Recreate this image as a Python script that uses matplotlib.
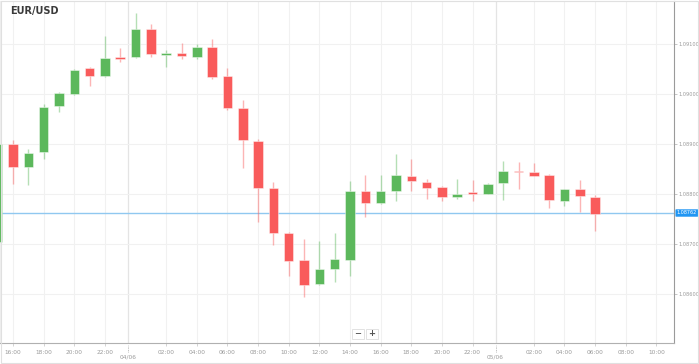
"""EUR/USD hourly candlestick chart."""

import matplotlib

matplotlib.use("Agg")
import matplotlib.pyplot as plt
from matplotlib.patches import FancyBboxPatch

# hours since 16:00 on 03/06
hours = list(range(-1, 39))
opens = [1.08704, 1.08900, 1.08854, 1.08884, 1.08976, 1.09000, 1.09052, 1.09036,
         1.09074, 1.09074, 1.09130, 1.09078, 1.09082, 1.09074, 1.09094, 1.09036,
         1.08972, 1.08906, 1.08812, 1.08722, 1.08668, 1.08620, 1.08650, 1.08668,
         1.08806, 1.08782, 1.08806, 1.08836, 1.08824, 1.08814, 1.08794, 1.08804,
         1.08800, 1.08822, 1.08846, 1.08844, 1.08838, 1.08786, 1.08810, 1.08794]
closes = [1.08900, 1.08854, 1.08882, 1.08974, 1.09002, 1.09048, 1.09036, 1.09072,
          1.09070, 1.09130, 1.09080, 1.09082, 1.09076, 1.09094, 1.09034, 1.08972,
          1.08908, 1.08812, 1.08722, 1.08666, 1.08618, 1.08650, 1.08670, 1.08806,
          1.08782, 1.08806, 1.08838, 1.08826, 1.08812, 1.08794, 1.08800, 1.08800,
          1.08820, 1.08846, 1.08844, 1.08836, 1.08788, 1.08810, 1.08796, 1.08760]
highs = [1.08905, 1.08908, 1.08890, 1.08980, 1.09004, 1.09050, 1.09054, 1.09116,
         1.09092, 1.09162, 1.09140, 1.09088, 1.09102, 1.09100, 1.09110, 1.09052,
         1.08988, 1.08910, 1.08824, 1.08724, 1.08710, 1.08706, 1.08722, 1.08826,
         1.08838, 1.08838, 1.08880, 1.08870, 1.08830, 1.08816, 1.08830, 1.08828,
         1.08822, 1.08866, 1.08864, 1.08862, 1.08840, 1.08810, 1.08828, 1.08798]
lows = [1.08700, 1.08820, 1.08818, 1.08870, 1.08964, 1.08998, 1.09016, 1.09034,
        1.09064, 1.09072, 1.09074, 1.09054, 1.09070, 1.09070, 1.09030, 1.08968,
        1.08852, 1.08744, 1.08698, 1.08636, 1.08594, 1.08618, 1.08624, 1.08636,
        1.08754, 1.08780, 1.08786, 1.08806, 1.08790, 1.08786, 1.08790, 1.08786,
        1.08800, 1.08788, 1.08810, 1.08836, 1.08772, 1.08776, 1.08764, 1.08726]

last_price = 1.08762
y_ticks = [1.08600, 1.08700, 1.08800, 1.08900, 1.09000, 1.09100]
x_ticks = [0, 2, 4, 6, 10, 12, 14, 16, 18, 20, 22, 24, 26, 28, 30, 34, 36, 38, 40, 42]
x_labels = ["16:00", "18:00", "20:00", "22:00", "02:00", "04:00", "06:00", "08:00",
            "10:00", "12:00", "14:00", "16:00", "18:00", "20:00", "22:00", "02:00",
            "04:00", "06:00", "08:00", "10:00"]
date_ticks = [7.5, 31.5]
date_labels = ["04/06", "05/06"]

GREEN = "#5cb85c"
RED = "#f95b5b"
GRID = "#f1f1f1"
TEXT = "#9a9a9a"

fig = plt.figure(figsize=(6.99, 3.64), dpi=100)
ax = fig.add_axes([0.0, 21 / 364, 674 / 699, 342 / 364])

# candles
ups = [c >= o for o, c in zip(opens, closes)]
colors = [GREEN if u else RED for u in ups]
ax.vlines(hours, lows, highs, colors=colors, linewidth=1.0, alpha=0.45, zorder=2)
bottoms = [min(o, c) for o, c in zip(opens, closes)]
heights = [max(abs(c - o), 0.00003) for o, c in zip(opens, closes)]
ax.bar(hours, heights, bottom=bottoms, width=0.62, color=colors,
       edgecolor=[(1, 1, 1, 0.5)] * len(hours), linewidth=0.6, zorder=3)

# last price line
ax.axhline(last_price, color="#90c8f0", linewidth=1.0, zorder=1)

ax.set_xlim(-0.85, 43.15)
ax.set_ylim(1.08502, 1.09186)

ax.set_yticks(y_ticks)
ax.set_yticklabels([f"{v:.5f}" for v in y_ticks])
ax.yaxis.tick_right()
ax.tick_params(axis="y", length=2, width=0.6, color="#bbbbbb", labelsize=3.6,
               labelcolor=TEXT, pad=1)
ax.set_xticks(x_ticks)
ax.set_xticklabels(x_labels)
ax.tick_params(axis="x", length=2, width=0.6, color="#cccccc", labelsize=4.2,
               labelcolor=TEXT, pad=3)
ax.grid(True, color=GRID, linewidth=0.8, zorder=0)
ax.set_axisbelow(True)

for d, lab in zip(date_ticks, date_labels):
    ax.axvline(d, color="#e4e4e4", linewidth=0.9, zorder=0)
    ax.vlines(d, -0.025, -0.005, transform=ax.get_xaxis_transform(),
              colors="#aaaaaa", linewidth=0.6, linestyles=(0, (1, 1)), clip_on=False)
    ax.text(d, -0.035, lab, transform=ax.get_xaxis_transform(), ha="center",
            va="top", fontsize=4.2, color=TEXT)

for side in ["top", "left"]:
    ax.spines[side].set_color("#eeeeee")
ax.spines["right"].set_color("#9a9a9a")
ax.spines["bottom"].set_color("#b0b0b0")
for s in ax.spines.values():
    s.set_linewidth(0.8)

# price tag
ax.text(1.004, last_price, f"{last_price:.5f}", transform=ax.get_yaxis_transform(),
        ha="left", va="center", fontsize=3.5, color="white",
        bbox=dict(boxstyle="round,pad=0.25,rounding_size=0.15", fc="#2196f3", ec="none"))

fig.text(10 / 699, 1 - 11 / 364, "EUR/USD", fontsize=7, fontweight="bold",
         color="#3a3a3a", ha="left", va="center")

# zoom buttons
for xp, sym in [(358, "\u2212"), (372, "+")]:
    fig.patches.append(FancyBboxPatch((xp / 699 - 0.0085, 1 - 339 / 364), 0.017, 10 / 364,
                                      boxstyle="square,pad=0", fc="white", ec="#dddddd",
                                      lw=0.6, transform=fig.transFigure))
    fig.text(xp / 699, 1 - 334 / 364, sym, fontsize=6, fontweight="bold",
             color="#555555", ha="center", va="center")

# outer frame
fig.patches.append(plt.Rectangle((0.5 / 699, 1 / 364), 697 / 699, 362 / 364,
                                 fill=False, ec="#e0e0e0", lw=0.8,
                                 transform=fig.transFigure))

fig.savefig("out.png", dpi=100)
